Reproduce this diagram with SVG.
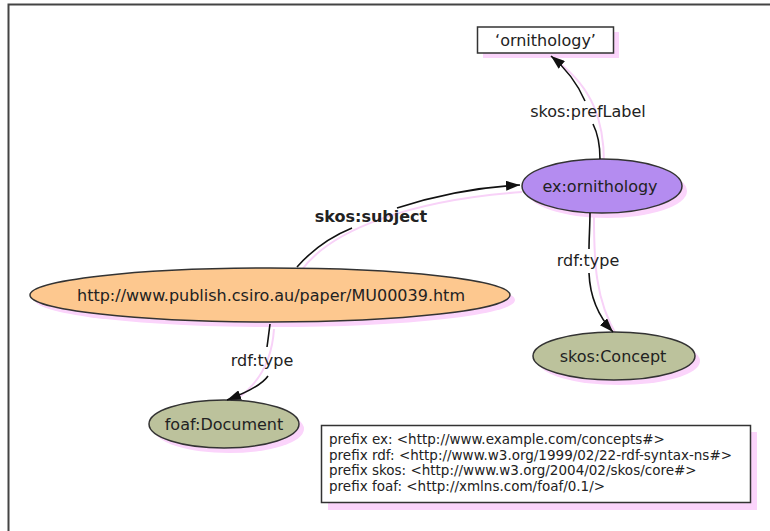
<svg xmlns="http://www.w3.org/2000/svg" width="770" height="531" viewBox="0 0 770 531">
<defs>
<style>
.t{font-family:"DejaVu Sans",Verdana,sans-serif;font-size:16px;fill:#222;text-anchor:middle}
.b{font-weight:bold}
.p{font-family:"DejaVu Sans",Verdana,sans-serif;font-size:13.5px;fill:#222}
.sh{fill:#fbd4fb;stroke:none}
.node{stroke:#333;stroke-width:1.5}
.e{fill:none;stroke:#111;stroke-width:1.6}
.es{fill:none;stroke:#f8d2f8;stroke-width:2}
</style>
<marker id="ah" viewBox="0 0 14 10" refX="14" refY="5" markerWidth="14" markerHeight="10" markerUnits="userSpaceOnUse" orient="auto">
<path d="M0,0 L14,5 L0,10 z" fill="#111"/>
</marker>
</defs>
<rect width="770" height="531" fill="#fff"/>
<path d="M8.5,531 V4.5 H770" fill="none" stroke="#444" stroke-width="2"/>

<g id="edge-shadows">
<path class="es" d="M604,163 C604,120 592,88 558,62"/>
<path class="es" d="M301,271 C330,230 410,200 522,192"/>
<path class="es" d="M594,217 C594,260 595,300 617,336"/>
<path class="es" d="M274,329 C272,360 260,385 232,402"/>
</g>

<g id="n-label">
<rect class="sh" x="483" y="32" width="136" height="26"/>
<rect class="node" x="477.5" y="27" width="136" height="26" fill="#fff"/>
<text class="t" x="545.5" y="46">‘ornithology’</text>
</g>
<g id="n-ornithology">
<ellipse class="sh" cx="607" cy="191" rx="80" ry="27"/>
<ellipse class="node" cx="602" cy="186" rx="80" ry="27" fill="#b48cf0"/>
<text class="t" x="600" y="192">ex:ornithology</text>
</g>
<g id="n-paper">
<ellipse class="sh" cx="275" cy="300" rx="240" ry="27"/>
<ellipse class="node" cx="270" cy="295" rx="240" ry="27" fill="#fdc88f"/>
<text class="t" x="271" y="301">http://www.publish.csiro.au/paper/MU00039.htm</text>
</g>
<g id="n-concept">
<ellipse class="sh" cx="619" cy="361" rx="81" ry="24"/>
<ellipse class="node" cx="614" cy="356" rx="81" ry="24" fill="#bcc29c"/>
<text class="t" x="613" y="362">skos:Concept</text>
</g>
<g id="n-document">
<ellipse class="sh" cx="229" cy="429" rx="75" ry="24"/>
<ellipse class="node" cx="224" cy="424" rx="75" ry="24" fill="#bcc29c"/>
<text class="t" x="224" y="430">foaf:Document</text>
</g>
<g id="n-prefixes">
<rect class="sh" x="328" y="432" width="429" height="78"/>
<rect class="node" x="321.5" y="425.5" width="429" height="77" fill="#fff" stroke-width="1.2"/>
<text class="p" x="329" y="444">prefix ex: &lt;http://www.example.com/concepts#&gt;</text>
<text class="p" x="329" y="460">prefix rdf: &lt;http://www.w3.org/1999/02/22-rdf-syntax-ns#&gt;</text>
<text class="p" x="329" y="475">prefix skos: &lt;http://www.w3.org/2004/02/skos/core#&gt;</text>
<text class="p" x="329" y="491">prefix foaf: &lt;http://xmlns.com/foaf/0.1/&gt;</text>
</g>

<g id="connectors">
<path class="e" d="M600,159 C600,144 597,132 593,124"/>
<path class="e" d="M585,101 C578,85 568,70 551,56" marker-end="url(#ah)"/>
<text class="t" x="588" y="117">skos:prefLabel</text>

<path class="e" d="M297,267 C312,250 330,237 352,228"/>
<path class="e" d="M397,208 C440,194 480,187 520,185" marker-end="url(#ah)"/>
<text class="t b" x="371" y="222">skos:subject</text>

<path class="e" d="M590,213 C590,226 589,238 589,249"/>
<path class="e" d="M589,273 C590,298 598,316 613,332" marker-end="url(#ah)"/>
<text class="t" x="588" y="266">rdf:type</text>

<path class="e" d="M270,324 C269,332 268,340 267,347"/>
<path class="e" d="M268,376 C262,385 248,392 227,400" marker-end="url(#ah)"/>
<text class="t" x="262" y="366">rdf:type</text>
</g>
</svg>
